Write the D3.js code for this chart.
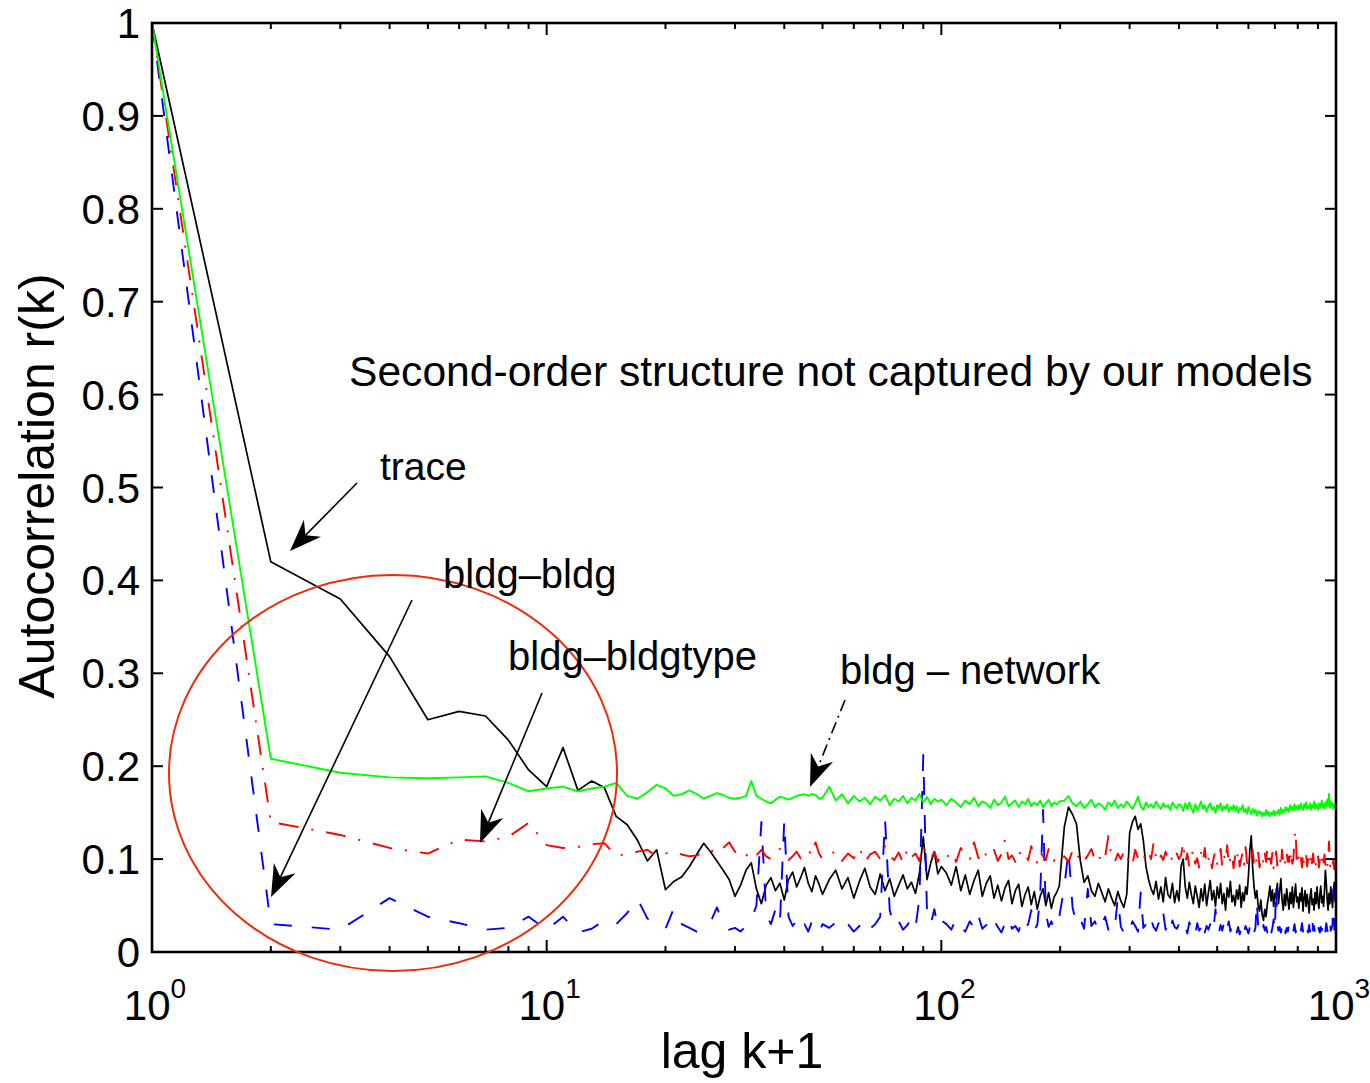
<!DOCTYPE html>
<html><head><meta charset="utf-8">
<script src="https://cdn.jsdelivr.net/npm/d3@7"></script>
<style>
body{margin:0;background:#fff}
text{font-family:"Liberation Sans",Arial,Helvetica,sans-serif;fill:#000}
</style>
</head><body>
<svg id="chart" width="1370" height="1083"></svg>
<script>
// lag k+1 sample grid (dense at small lags, thinner at large lags)
const lags = [...d3.range(1,51), ...d3.range(52,101,2), ...d3.range(103,201,3), ...d3.range(205,401,5), ...d3.range(405,1001,5)];

// trace (black, solid)
const trace = [
1.0,.420,.380,.318,.250,.259,.254,.228,.196,.178, .220,.174,.184,.177,.146,.137,.120,.098,.110,.067,
.076,.081,.092,.105,.117,.108,.098,.088,.078,.060, .072,.088,.096,.068,.052,.072,.080,.066,.074,.056,
.078,.086,.070,.080,.091,.074,.065,.082,.073,.062,
.078,.088,.068,.080,.058,.076,.090,.070,.062,.084,.066,.079,.060,.072,.083,.068,.075,.063,.085,.124,.078,.096,.108,.084,.092,
.085,.072,.092,.066,.083,.062,.077,.088,.060,.074, .082,.058,.072,.055,.069,.077,.052,.066,.073,.049,
.062,.070,.051,.065,.046,.060,.068,.050,.064,.047, .059,.064,.071,
.135,.156,.148,.138,.098,.075,.082,.066,.060,.074, .064,.054,.068,.058,.050,.065,.055,.048,.062,.128,
.140,.146,.132,.138,.120,.092,.078,.068,.062,.076, .057,.070,.054,.080,.062,.058,.074,.053,.066,.055,
.092,.100,.070,.058,.075,.062,.052,.071,.060,.048, .068,.055,.073,.050,.064,.077,.056,.066,.049,.070,
.058,.074,.052,.063,.045,.069,.059,.076,.054,.061, .050,.067,.057,.072,.048,.064,.055,.070,.062,.082,
.110,.125,.090,.070,.058,.066,.050,.044,.056,.040, .034,.046,.038,.052,.060,.071,.055,.067,.049,.063,
.058,.074,.052,.066,.079,.056,.045,.062,.050,.068, .057,.046,.064,.052,.070,.048,.061,.073,.054,.059,
.047,.063,.055,.069,.044,.058,.066,.049,.062,.053, .042,.060,.068,.051,.057,.045,.064,.052,.070,.055,
.047,.062,.071,.053,.060,.049,.066,.088,.074,.056, .045,.063,.052,.070,.058,.048,.066,.075,.054,.060
];

// bldg-network (green, solid)
const bldgNetwork = [
1.0,.208,.193,.188,.187,.188,.189,.182,.173,.176, .178,.173,.176,.178,.182,.168,.165,.172,.180,.176,
.168,.170,.174,.170,.165,.168,.171,.169,.166,.165, .166,.168,.184,.168,.165,.162,.160,.164,.167,.166,
.164,.166,.168,.169,.170,.168,.170,.169,.165,.166,
.178,.163,.170,.160,.168,.162,.166,.159,.167,.163,.169,.158,.165,.162,.168,.160,.166,.163,.170,.161,.167,.159,.165,.162,.164,
.158,.165,.161,.156,.163,.159,.166,.157,.162,.160, .155,.164,.158,.161,.167,.157,.160,.163,.156,.162,
.159,.165,.157,.161,.158,.163,.156,.160,.164,.157, .161,.159,.162,
.163,.168,.160,.157,.162,.155,.159,.164,.156,.160, .158,.153,.161,.157,.163,.155,.159,.156,.162,.158,
.154,.160,.167,.157,.153,.161,.156,.159,.155,.162, .157,.154,.160,.156,.158,.153,.161,.157,.155,.159,
.158,.152,.160,.154,.161,.155,.150,.159,.153,.157, .162,.154,.158,.151,.157,.160,.153,.156,.150,.158,
.155,.160,.152,.157,.154,.159,.151,.156,.153,.158, .152,.157,.150,.155,.153,.158,.151,.154,.149,.156,
.152,.148,.154,.150,.153,.147,.152,.149,.151,.146, .150,.147,.153,.148,.151,.146,.150,.148,.152,.147,
.151,.149,.153,.148,.155,.150,.153,.151,.156,.152, .155,.151,.158,.153,.156,.152,.159,.154,.157,.153,
.158,.154,.160,.155,.153,.159,.156,.161,.154,.157, .155,.160,.153,.158,.156,.162,.154,.159,.157,.153,
.160,.155,.158,.163,.156,.159,.154,.161,.157,.164, .158,.170,.155,.162,.157,.160,.154,.159,.156,.158
];

// bldg-bldgtype (red, dash-dot)
const bldgBldgtype = [
1.0,.140,.126,.112,.106,.121,.119,.124,.139,.115, .112,.113,.116,.117,.104,.105,.108,.110,.103,.106,
.108,.105,.103,.104,.107,.110,.106,.112,.118,.108, .102,.105,.099,.104,.110,.103,.100,.106,.111,.104,
.099,.103,.108,.101,.105,.110,.104,.118,.106,.100,
.104,.109,.098,.106,.101,.112,.097,.105,.108,.100,.114,.103,.099,.107,.096,.111,.102,.106,.098,.115,.103,.100,.108,.097,.105,
.101,.108,.097,.112,.104,.099,.118,.102,.096,.107, .103,.110,.098,.105,.121,.100,.104,.097,.109,.102,
.106,.099,.114,.101,.096,.108,.103,.099,.111,.104, .098,.106,.102,
.103,.097,.109,.100,.106,.098,.104,.111,.099,.105, .096,.102,.125,.101,.097,.106,.100,.108,.098,.103,
.095,.110,.101,.097,.104,.099,.107,.100,.118,.102, .096,.104,.099,.108,.101,.095,.103,.098,.106,.100,
.104,.118,.096,.106,.092,.103,.110,.095,.101,.091, .107,.097,.112,.093,.100,.105,.090,.102,.108,.094,
.099,.111,.092,.104,.097,.115,.093,.101,.106,.090, .103,.096,.109,.092,.100,.107,.094,.113,.097,.091,
.105,.098,.110,.093,.102,.096,.108,.091,.099,.104, .094,.106,.097,.112,.092,.101,.095,.107,.090,.100,
.108,.093,.099,.104,.091,.110,.096,.102,.094,.106, .097,.103,.092,.109,.095,.100,.124,.131,.098,.093,
.104,.096,.101,.091,.107,.094,.099,.105,.092,.100, .095,.103,.090,.098,.106,.093,.100,.092,.097,.104,
.091,.099,.094,.102,.090,.096,.105,.093,.098,.091, .100,.119,.095,.090,.097,.093,.099,.089,.096,.092
];

// bldg-bldg (blue, dashed)
const bldgBldg = [
1.0,.030,.024,.058,.038,.031,.024,.026,.038,.024, .038,.021,.025,.034,.030,.042,.057,.036,.030,.025,
.047,.030,.026,.022,.025,.032,.048,.030,.024,.026, .022,.028,.035,.050,.140,.040,.030,.046,.032,.142,
.038,.028,.034,.024,.030,.022,.033,.026,.021,.030,
.026,.032,.024,.030,.022,.028,.035,.025,.030,.038,.143,.045,.027,.033,.024,.029,.036,.026,.058,.212,.040,.030,.046,.027,.034,
.030,.024,.036,.027,.022,.033,.026,.040,.025,.029, .023,.034,.027,.021,.031,.038,.025,.028,.022,.035,
.026,.030,.045,.024,.029,.060,.153,.042,.027,.033, .024,.030,.038,
.070,.110,.048,.030,.036,.025,.068,.028,.033,.022, .029,.038,.024,.031,.026,.058,.027,.021,.030,.025,
.033,.028,.022,.064,.026,.030,.024,.035,.027,.023, .031,.026,.042,.024,.029,.021,.034,.027,.025,.030,
.030,.022,.028,.020,.032,.024,.027,.019,.031,.023, .026,.034,.021,.028,.024,.030,.020,.027,.046,.025,
.021,.029,.023,.031,.020,.026,.033,.022,.028,.024, .030,.021,.027,.019,.025,.032,.022,.028,.024,.020,
.027,.023,.030,.021,.026,.055,.028,.022,.025,.020, .029,.023,.027,.021,.031,.024,.020,.026,.035,.022,
.072,.030,.023,.027,.021,.028,.024,.031,.020,.026, .022,.029,.024,.020,.027,.023,.030,.021,.026,.024,
.020,.028,.023,.031,.022,.026,.019,.027,.024,.021, .029,.022,.026,.038,.023,.028,.020,.025,.022,.030,
.024,.021,.027,.023,.029,.020,.026,.022,.031,.024, .021,.028,.035,.023,.026,.030,.068,.024,.029,.025
];

const yTicks = [0,0.1,0.2,0.3,0.4,0.5,0.6,0.7,0.8,0.9,1];
const yTickLabels = ["0","0.1","0.2","0.3","0.4","0.5","0.6","0.7","0.8","0.9","1"];
const xMajor = [1,10,100,1000];
const xExponents = ["0","1","2","3"];

const svg = d3.select("#chart");
const L = 152, R = 1336, T = 23, B = 952;
const x = d3.scaleLog().domain([1,1000]).range([L,R]);
const y = d3.scaleLinear().domain([0,1]).range([B,T]);

svg.append("defs").append("clipPath").attr("id","plotclip")
  .append("rect").attr("x",L).attr("y",T).attr("width",R-L).attr("height",B-T);

const series = [
  {vals: trace, color:"#000000", dash:null, w:1.7},
  {vals: bldgBldg, color:"#0000ff", dash:"18,20", w:1.9},
  {vals: bldgBldgtype, color:"#ff0000", dash:"20,13,2,13", w:1.9},
  {vals: bldgNetwork, color:"#00ff00", dash:null, w:1.9}
];
const line = d3.line().x(d=>x(d[0])).y(d=>y(d[1]));
const gLines = svg.append("g").attr("clip-path","url(#plotclip)");
series.forEach(s=>{
  const pts = lags.map((k,i)=>[k, s.vals[i]]).filter(d=>d[1]!==undefined);
  gLines.append("path").attr("d", line(pts)).attr("fill","none")
    .attr("stroke", s.color).attr("stroke-width", s.w)
    .attr("stroke-linejoin","round")
    .attr("stroke-dasharray", s.dash);
});

// frame
svg.append("rect").attr("x",L).attr("y",T).attr("width",R-L).attr("height",B-T)
  .attr("fill","none").attr("stroke","#000").attr("stroke-width",2.6);

const ticks = svg.append("g").attr("stroke","#000").attr("stroke-width",2);
yTicks.forEach(v=>{
  const yy = y(v);
  ticks.append("line").attr("x1",L).attr("x2",L+11).attr("y1",yy).attr("y2",yy);
  ticks.append("line").attr("x1",R).attr("x2",R-11).attr("y1",yy).attr("y2",yy);
});
const minor = [];
[1,10,100].forEach(d=>{ for(let m=2;m<=9;m++) minor.push(d*m); });
minor.forEach(v=>{
  const xx = x(v);
  ticks.append("line").attr("x1",xx).attr("x2",xx).attr("y1",B).attr("y2",B-6);
  ticks.append("line").attr("x1",xx).attr("x2",xx).attr("y1",T).attr("y2",T+6);
});
xMajor.forEach(v=>{
  const xx = x(v);
  ticks.append("line").attr("x1",xx).attr("x2",xx).attr("y1",B).attr("y2",B-12);
  ticks.append("line").attr("x1",xx).attr("x2",xx).attr("y1",T).attr("y2",T+12);
});

yTicks.forEach((v,i)=>{
  svg.append("text").attr("x",140).attr("y",y(v)+15).attr("text-anchor","end")
    .attr("font-size",42).text(yTickLabels[i]);
});
xMajor.forEach((v,i)=>{
  const t = svg.append("text").attr("x",x(v)+3).attr("y",1020).attr("text-anchor","middle").attr("font-size",42);
  t.append("tspan").text("10");
  t.append("tspan").attr("font-size",28).attr("dy",-22).text(xExponents[i]);
});

svg.append("text").attr("x",742).attr("y",1068).attr("text-anchor","middle").attr("font-size",50).text("lag k+1");
svg.append("text").attr("transform","translate(54,486) rotate(-90)").attr("text-anchor","middle")
  .attr("font-size",50).text("Autocorrelation r(k)");

svg.append("ellipse").attr("cx",393).attr("cy",773).attr("rx",224).attr("ry",198)
  .attr("fill","none").attr("stroke","#f02a08").attr("stroke-width",2);

const ann = svg.append("g");
function arrow(x1,y1,x2,y2,dash){
  const dx=x2-x1, dy=y2-y1, len=Math.hypot(dx,dy), ux=dx/len, uy=dy/len, nx=-uy, ny=ux;
  const HL=32, HW=12, NB=22;
  const nxp = x2-ux*NB, nyp = y2-uy*NB;
  ann.append("line").attr("x1",x1).attr("y1",y1).attr("x2",nxp).attr("y2",nyp)
    .attr("stroke","#000").attr("stroke-width",1.6).attr("stroke-dasharray",dash||null);
  const pts=[[x2,y2],[x2-ux*HL+nx*HW,y2-uy*HL+ny*HW],[nxp,nyp],[x2-ux*HL-nx*HW,y2-uy*HL-ny*HW]];
  ann.append("polygon").attr("points",pts.map(p=>p.join(",")).join(" ")).attr("fill","#000");
}
arrow(357,483,290,551);
arrow(412,600,271,897);
arrow(542,693,480,843);
arrow(845,700,810,787,"12,5,2,5");

ann.append("text").attr("x",380).attr("y",480).attr("font-size",39).text("trace");
ann.append("text").attr("x",443).attr("y",588).attr("font-size",40).text("bldg\u2013bldg");
ann.append("text").attr("x",508).attr("y",670).attr("font-size",40).text("bldg\u2013bldgtype");
ann.append("text").attr("x",840).attr("y",684).attr("font-size",40).text("bldg \u2013 network");
ann.append("text").attr("x",349).attr("y",386).attr("font-size",42.6).text("Second-order structure not captured by our models");
</script>
</body></html>
